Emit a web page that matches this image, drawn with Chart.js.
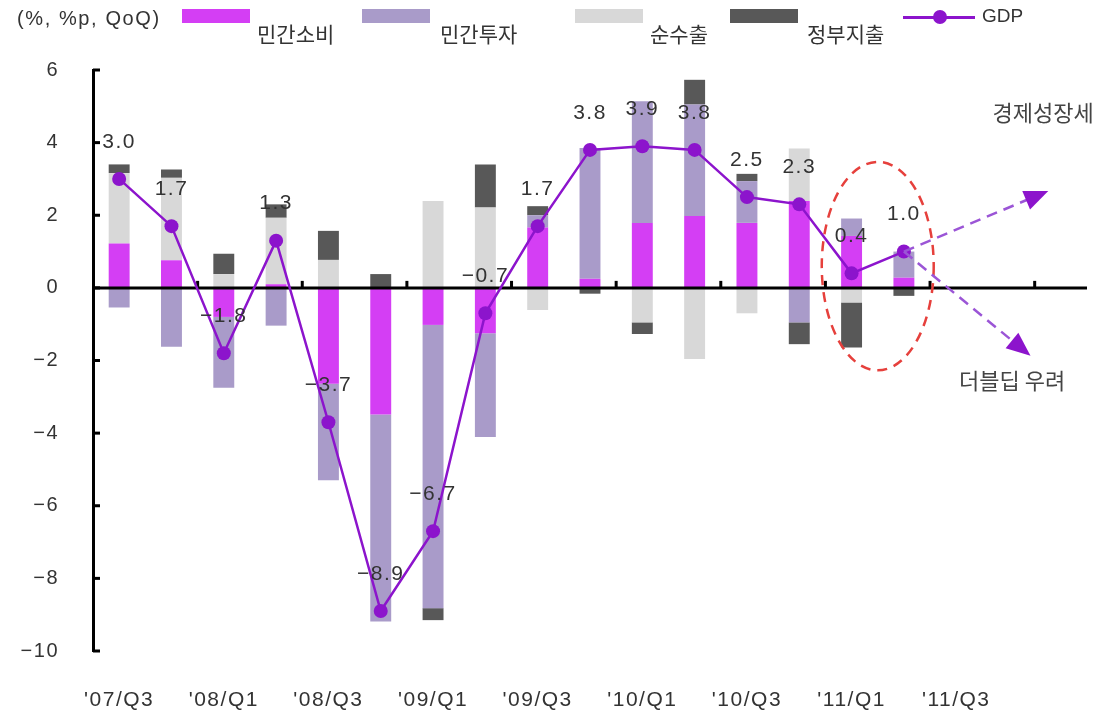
<!DOCTYPE html>
<html>
<head>
<meta charset="utf-8">
<script src="https://cdn.jsdelivr.net/npm/chart.js@4.4.1/dist/chart.umd.min.js"></script>
<style>
body{margin:0;background:#fff;}
#wrap{position:relative;width:1106px;height:712px;}
.lgText{position:absolute;font-family:'Noto Sans CJK KR',sans-serif;font-size:21px;line-height:21px;color:#333;white-space:nowrap;}
.lgBox{position:absolute;height:14px;width:68px;}
</style>
</head>
<body>
<div id="wrap">
<canvas id="gdpChart"></canvas>
</div>
<script>
'use strict'

//분기
const quarters = ["'07/Q3","'07/Q4","'08/Q1","'08/Q2","'08/Q3","'08/Q4","'09/Q1","'09/Q2","'09/Q3","'09/Q4",
                  "'10/Q1","'10/Q2","'10/Q3","'10/Q4","'11/Q1","'11/Q2","'11/Q3","'11/Q4","'12/Q1"];
//민간소비 기여도
const consumption = [1.22, 0.76, -0.80, 0.10, -2.64, -3.49, -1.02, -1.25, 1.66, 0.25, 1.79, 1.98, 1.79, 2.39, 1.43, 0.28];
//민간투자 기여도
const investment = [-0.54, -1.62, -1.95, -1.04, -2.66, -5.70, -7.80, -2.86, 0.34, 3.60, 3.35, 3.07, 1.15, -0.95, 0.48, 0.72];
//순수출 기여도
const netExports = [1.94, 2.27, 0.38, 1.83, 0.77, 0, 2.39, 2.21, -0.61, 0, -0.95, -1.96, -0.70, 1.45, -0.40, 0];
//정부지출 기여도
const govSpending = [0.24, 0.23, 0.56, 0.37, 0.80, 0.38, -0.33, 1.19, 0.25, -0.16, -0.32, 0.68, 0.20, -0.60, -1.24, -0.22];
//GDP 성장률
const gdp = [3.0, 1.7, -1.8, 1.3, -3.7, -8.9, -6.7, -0.7, 1.7, 3.8, 3.9, 3.8, 2.5, 2.3, 0.4, 1.0];
//y축 눈금
const yTicks = [6, 4, 2, 0, -2, -4, -6, -8, -10];

const seriesNames = ['민간소비', '민간투자', '순수출', '정부지출', 'GDP'];
const colors = ['#D43EF4', '#A99BC9', '#D8D8D8', '#585858', '#8C14CC'];

//==================================================================================================

const wrap = document.querySelector('#wrap');

//범례 (위치만 따로)
function makeLegend(){
	const unit = document.createElement('div');
	unit.className = 'lgText';
	unit.style.cssText = "left:17px;top:8px;font-family:'Liberation Sans',sans-serif;font-size:20px;letter-spacing:1.6px;";
	unit.textContent = '(%, %p, QoQ)';
	wrap.appendChild(unit);

	const boxLeft = [182, 362, 575, 730];
	const textLeft = [257, 440, 650, 807];
	for(let i = 0; i < 4; i++){
		const box = document.createElement('div');
		box.className = 'lgBox';
		box.style.left = boxLeft[i] + 'px';
		box.style.top = '9px';
		box.style.background = colors[i];
		wrap.appendChild(box);
		const txt = document.createElement('div');
		txt.className = 'lgText';
		txt.style.left = textLeft[i] + 'px';
		txt.style.top = '23px';
		txt.textContent = seriesNames[i];
		wrap.appendChild(txt);
	}
	//GDP 라인 범례
	const line = document.createElement('div');
	line.style.cssText = 'position:absolute;left:903px;top:16px;width:72px;height:3px;background:' + colors[4] + ';';
	wrap.appendChild(line);
	const dot = document.createElement('div');
	dot.style.cssText = 'position:absolute;left:933px;top:10px;width:14px;height:14px;border-radius:7px;background:' + colors[4] + ';';
	wrap.appendChild(dot);
	const gtxt = document.createElement('div');
	gtxt.className = 'lgText';
	gtxt.style.cssText = "left:982px;top:5px;font-family:'Liberation Sans',sans-serif;font-size:19px;";
	gtxt.textContent = 'GDP';
	wrap.appendChild(gtxt);
}

function fmt(v){
	return (v < 0 ? '\u2212' : '') + Math.abs(v).toFixed(1);
}

function drawArrow(ctx, x1, y1, x2, y2){
	const ang = Math.atan2(y2 - y1, x2 - x1);
	const head = 24;
	ctx.save();
	ctx.strokeStyle = '#9B55D6';
	ctx.lineWidth = 2.5;
	ctx.setLineDash([11, 7]);
	ctx.beginPath();
	ctx.moveTo(x1, y1);
	ctx.lineTo(x2 - Math.cos(ang) * head * 0.8, y2 - Math.sin(ang) * head * 0.8);
	ctx.stroke();
	ctx.setLineDash([]);
	ctx.fillStyle = '#8C14CC';
	ctx.beginPath();
	ctx.moveTo(x2, y2);
	ctx.lineTo(x2 - Math.cos(ang) * head + Math.sin(ang) * 10, y2 - Math.sin(ang) * head - Math.cos(ang) * 10);
	ctx.lineTo(x2 - Math.cos(ang) * head - Math.sin(ang) * 10, y2 - Math.sin(ang) * head + Math.cos(ang) * 10);
	ctx.closePath();
	ctx.fill();
	ctx.restore();
}

//0 기준선, 눈금, 라벨, 타원, 화살표
const overlayPlugin = {
	id: 'overlay',
	beforeDraw(chart){
		chart.ctx.letterSpacing = '1.5px';
	},
	beforeDatasetDraw(chart, args){
		if(args.index !== 4)
			return;
		const {ctx, chartArea, scales: {x, y}} = chart;
		const y0 = y.getPixelForValue(0);
		const half = (x.getPixelForValue(1) - x.getPixelForValue(0)) / 2;
		ctx.save();
		ctx.strokeStyle = '#000';
		ctx.lineWidth = 3;
		ctx.beginPath();
		ctx.moveTo(chartArea.left, y0);
		ctx.lineTo(chartArea.right, y0);
		ctx.stroke();
		ctx.fillStyle = '#000';
		//x축 눈금 (2분기마다, 위쪽)
		for(let i = 2; i < quarters.length; i += 2){
			const px = x.getPixelForValue(i) - half;
			ctx.fillRect(px - 1.5, y0 - 7, 3, 7);
		}
		//y축 눈금 (오른쪽)
		yTicks.forEach((v) => {
			const py = y.getPixelForValue(v);
			ctx.fillRect(chartArea.left, py - 1.5, 7, 3);
		});
		ctx.restore();
	},
	afterDatasetsDraw(chart){
		const {ctx, scales: {x, y}} = chart;
		const meta = chart.getDatasetMeta(4);
		ctx.save();
		ctx.font = "21px 'Liberation Sans', sans-serif";
		ctx.fillStyle = '#333';
		ctx.textAlign = 'center';
		ctx.textBaseline = 'middle';
		meta.data.forEach((p, i) => {
			ctx.fillText(fmt(gdp[i]), p.x, p.y - 37);
		});

		//빨간 점선 타원
		const cx = x.getPixelForValue(14.5);
		const cy = y.getPixelForValue(0.6);
		const rx = x.getPixelForValue(15.57) - cx;
		const ry = y.getPixelForValue(0.6 - 2.87) - cy;
		ctx.strokeStyle = '#E6403C';
		ctx.lineWidth = 2.5;
		ctx.setLineDash([10, 7]);
		ctx.beginPath();
		ctx.ellipse(cx, cy, rx, ry, 0, 0, Math.PI * 2);
		ctx.stroke();
		ctx.setLineDash([]);

		//화살표
		const sx = x.getPixelForValue(15);
		const sy = y.getPixelForValue(gdp[15]);
		drawArrow(ctx, sx, sy, x.getPixelForValue(17.76), y.getPixelForValue(2.67));
		drawArrow(ctx, sx, sy, x.getPixelForValue(17.42), y.getPixelForValue(-1.87));

		ctx.font = "22px 'Noto Sans CJK KR', sans-serif";
		ctx.fillStyle = '#444';
		ctx.letterSpacing = '0px';
		ctx.fillText('경제성장세', x.getPixelForValue(17.66), y.getPixelForValue(4.82));
		ctx.fillText('더블딥 우려', x.getPixelForValue(17.07), y.getPixelForValue(-2.56));
		ctx.restore();
	}
};

function barSet(idx, data){
	return {
		type: 'bar',
		label: seriesNames[idx],
		data: data,
		backgroundColor: colors[idx],
		borderWidth: 0,
		barPercentage: 0.4,
		categoryPercentage: 1,
		stack: 'contrib',
		order: 1
	};
}

function initChart(){
	makeLegend();
	new Chart(document.getElementById('gdpChart'), {
		data: {
			labels: quarters,
			datasets: [
				barSet(0, consumption),
				barSet(1, investment),
				barSet(2, netExports),
				barSet(3, govSpending),
				{
					type: 'line',
					label: seriesNames[4],
					data: gdp,
					borderColor: colors[4],
					backgroundColor: colors[4],
					borderWidth: 2.5,
					pointRadius: 7,
					pointHoverRadius: 7,
					pointBorderWidth: 0,
					tension: 0,
					order: 0
				}
			]
		},
		options: {
			responsive: true,
			maintainAspectRatio: false,
			animation: false,
			layout: { padding: { top: 70, right: 19, bottom: 0, left: 0 } },
			plugins: {
				legend: { display: false },
				tooltip: { enabled: false }
			},
			scales: {
				x: {
					stacked: true,
					afterFit(scale){ scale.height = 61; },
					border: { display: false },
					grid: { display: false, drawTicks: false },
					ticks: {
						autoSkip: false,
						maxRotation: 0,
						padding: 37,
						color: '#333',
						font: { family: 'Liberation Sans', size: 21 },
						callback(v, i){ return (i % 2 === 0 && i < 17) ? quarters[i] : ''; }
					}
				},
				y: {
					stacked: true,
					min: -10,
					max: 6,
					afterBuildTicks(scale){ scale.ticks = yTicks.map(v => ({ value: v })); },
					afterFit(scale){ scale.width = 93; },
					border: { display: true, color: '#000', width: 3 },
					grid: { drawOnChartArea: false, drawTicks: false },
					ticks: {
						color: '#333',
						padding: 34,
						font: { family: 'Liberation Sans', size: 20 },
						callback(v){ return (v < 0 ? '\u2212' : '') + Math.abs(v); }
					}
				}
			}
		},
		plugins: [overlayPlugin]
	});
}

window.addEventListener('load', initChart);
</script>
</body>
</html>
